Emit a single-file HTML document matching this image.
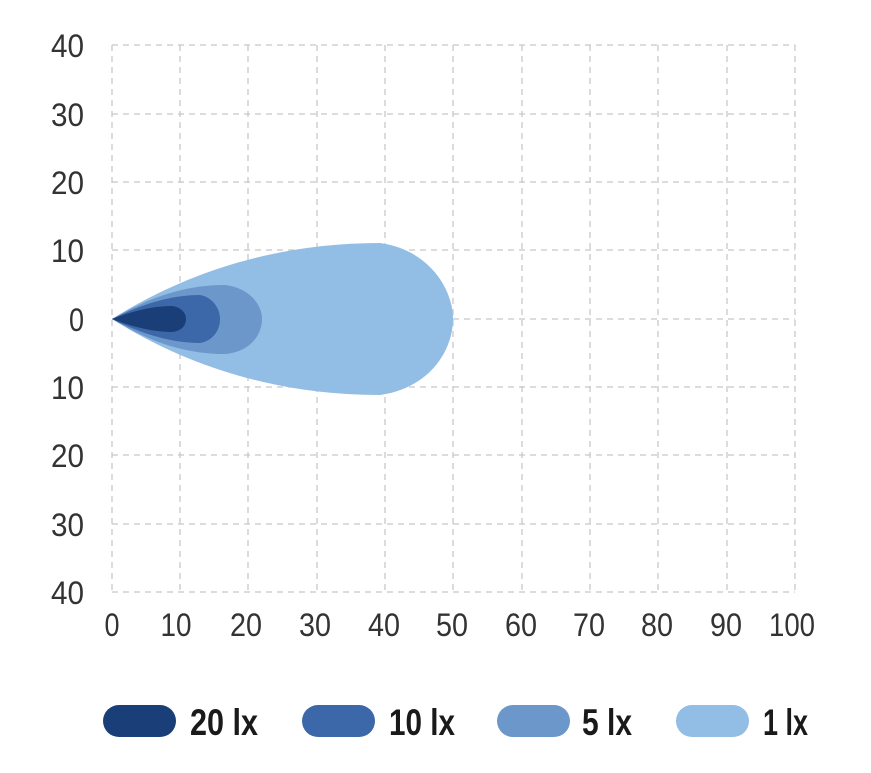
<!DOCTYPE html><html><head><meta charset="utf-8"><style>body{margin:0;background:#fff}</style></head><body>
<svg width="871" height="768" xmlns="http://www.w3.org/2000/svg" font-family="Liberation Sans, sans-serif">
<g stroke="#c8c8c8" stroke-width="1.3" stroke-dasharray="6,5" fill="none">
<path d="M112 45V592M180 45V592M248 45V592M317 45V592M385 45V592M453 45V592M522 45V592M590 45V592M658 45V592M727 45V592M795 45V592"/>
<path d="M112 45H795M112 114H795M112 182H795M112 250H795M112 319H795M112 387H795M112 455H795M112 524H795M112 592H795"/>
</g>
<path fill="#92bde5" d="M112 319 C190 270 280 243 380 243 C430 250 453 290 453 319 C453 350 430 388 380 395 C280 395 190 368 112 319Z"/>
<path fill="#6b97cb" d="M112 319 C150 297 185 285 225 285 C250 288 262 305 262 319 C262 335 250 352 225 354 C185 354 150 342 112 319Z"/>
<path fill="#3c67a8" d="M112 319 C140 305 170 295 200 295 C212 297 220 308 220 319 C220 331 212 341 200 343 C170 343 140 333 112 319Z"/>
<path fill="#1a3f78" d="M112 319 C135 310 155 306 172 306 C181 307 186 313 186 319 C186 326 181 331 172 332 C155 332 135 328 112 319Z"/>
<g fill="#333" font-size="32" text-anchor="end">
<text x="84" y="57" textLength="33" lengthAdjust="spacingAndGlyphs">40</text>
<text x="84" y="126" textLength="33" lengthAdjust="spacingAndGlyphs">30</text>
<text x="84" y="194" textLength="33" lengthAdjust="spacingAndGlyphs">20</text>
<text x="84" y="262" textLength="33" lengthAdjust="spacingAndGlyphs">10</text>
<text x="84" y="331" textLength="15" lengthAdjust="spacingAndGlyphs">0</text>
<text x="84" y="399" textLength="33" lengthAdjust="spacingAndGlyphs">10</text>
<text x="84" y="467" textLength="33" lengthAdjust="spacingAndGlyphs">20</text>
<text x="84" y="536" textLength="33" lengthAdjust="spacingAndGlyphs">30</text>
<text x="84" y="604" textLength="33" lengthAdjust="spacingAndGlyphs">40</text>
</g>
<g fill="#333" font-size="32" text-anchor="middle">
<text x="112" y="636" textLength="15" lengthAdjust="spacingAndGlyphs">0</text>
<text x="176" y="636" textLength="31" lengthAdjust="spacingAndGlyphs">10</text>
<text x="246" y="636" textLength="32" lengthAdjust="spacingAndGlyphs">20</text>
<text x="315" y="636" textLength="32" lengthAdjust="spacingAndGlyphs">30</text>
<text x="384" y="636" textLength="32" lengthAdjust="spacingAndGlyphs">40</text>
<text x="452" y="636" textLength="32" lengthAdjust="spacingAndGlyphs">50</text>
<text x="521" y="636" textLength="32" lengthAdjust="spacingAndGlyphs">60</text>
<text x="589" y="636" textLength="32" lengthAdjust="spacingAndGlyphs">70</text>
<text x="657" y="636" textLength="32" lengthAdjust="spacingAndGlyphs">80</text>
<text x="726" y="636" textLength="32" lengthAdjust="spacingAndGlyphs">90</text>
<text x="792" y="636" textLength="46" lengthAdjust="spacingAndGlyphs">100</text>
</g>
<rect x="103" y="705" width="73" height="32" rx="16" fill="#1a3f78"/>
<rect x="302" y="705" width="73" height="32" rx="16" fill="#3c67a8"/>
<rect x="497" y="705" width="73" height="32" rx="16" fill="#6b97cb"/>
<rect x="676" y="705" width="73" height="32" rx="16" fill="#92bde5"/>
<g fill="#1a1a1a" font-size="37" font-weight="bold">
<text x="190" y="735" textLength="68" lengthAdjust="spacingAndGlyphs">20 lx</text>
<text x="389" y="735" textLength="66" lengthAdjust="spacingAndGlyphs">10 lx</text>
<text x="582" y="735" textLength="50" lengthAdjust="spacingAndGlyphs">5 lx</text>
<text x="763" y="735" textLength="45" lengthAdjust="spacingAndGlyphs">1 lx</text>
</g>
</svg></body></html>
